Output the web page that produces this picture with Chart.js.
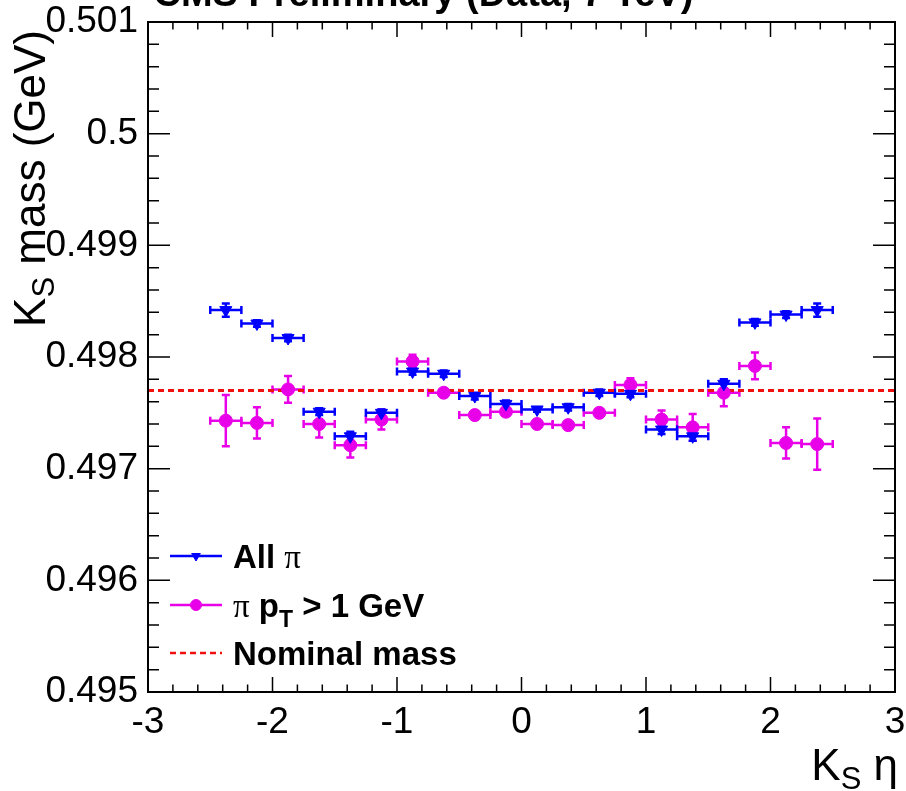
<!DOCTYPE html>
<html>
<head>
<meta charset="utf-8">
<script src="https://cdn.jsdelivr.net/npm/chart.js@4"></script>
<style>
html, body { margin: 0; padding: 0; background: #fff; }
</style>
</head>
<body>
<canvas id="myChart" width="906" height="791"></canvas>
<script>
// K_S mass vs K_S eta, two pion selections
const etaBins = [-2.375, -2.125, -1.875, -1.625, -1.375, -1.125, -0.875, -0.625, -0.375, -0.125,
                 0.125, 0.375, 0.625, 0.875, 1.125, 1.375, 1.625, 1.875, 2.125, 2.375];
const etaHalfWidth = 0.125;

const massAllPi = [0.49842, 0.49830, 0.49817, 0.49751, 0.49729, 0.49750, 0.49787, 0.49785, 0.49765, 0.49758,
                   0.49753, 0.49755, 0.49768, 0.49767, 0.49735, 0.49729, 0.49776, 0.49831, 0.49838, 0.49842];
const errAllPi = [0.00006, 0.00003, 0.00003, 0.00003, 0.00004, 0.00003, 0.00003, 0.00003, 0.00003, 0.00003,
                  0.00002, 0.00003, 0.00003, 0.00003, 0.00004, 0.00004, 0.00004, 0.00003, 0.00003, 0.00006];

const massPtCut = [0.49743, 0.49741, 0.49771, 0.49740, 0.49721, 0.49744, 0.49796, 0.49768, 0.49748, 0.49751,
                   0.49740, 0.49739, 0.49750, 0.49775, 0.49744, 0.49737, 0.49768, 0.49792, 0.49723, 0.49722];
const errPtCut = [0.00023, 0.00014, 0.00012, 0.00012, 0.00011, 0.00009, 0.00006, 0.00003, 0.00003, 0.00003,
                  0.00003, 0.00003, 0.00003, 0.00006, 0.00008, 0.00012, 0.00012, 0.00012, 0.00014, 0.00023];

const nominalMass = 0.4977;

const xTicks = [-3, -2, -1, 0, 1, 2, 3];
const xTickLabels = ['-3', '-2', '-1', '0', '1', '2', '3'];
const yTicks = [0.495, 0.496, 0.497, 0.498, 0.499, 0.5, 0.501];
const yTickLabels = ['0.495', '0.496', '0.497', '0.498', '0.499', '0.5', '0.501'];

const BLUE = '#0000ff';
const MAGENTA = '#e800e8';
const RED = '#f01010';
const FONT = '"Liberation Sans", Arial, Helvetica, sans-serif';
const SERIF = '"Liberation Serif", "DejaVu Serif", serif';

function drawErrors(chart, ys, errs, color) {
    const ctx = chart.ctx, sx = chart.scales.x, sy = chart.scales.y;
    ctx.save();
    ctx.strokeStyle = color;
    ctx.lineWidth = 2.5;
    etaBins.forEach((x, i) => {
        const px = sx.getPixelForValue(x), py = sy.getPixelForValue(ys[i]);
        const x0 = sx.getPixelForValue(x - etaHalfWidth), x1 = sx.getPixelForValue(x + etaHalfWidth);
        const y0 = sy.getPixelForValue(ys[i] - errs[i]), y1 = sy.getPixelForValue(ys[i] + errs[i]);
        const c = 4;
        ctx.beginPath();
        ctx.moveTo(x0, py); ctx.lineTo(x1, py);
        ctx.moveTo(x0, py - c); ctx.lineTo(x0, py + c);
        ctx.moveTo(x1, py - c); ctx.lineTo(x1, py + c);
        ctx.moveTo(px, y0); ctx.lineTo(px, y1);
        ctx.moveTo(px - c, y0); ctx.lineTo(px + c, y0);
        ctx.moveTo(px - c, y1); ctx.lineTo(px + c, y1);
        ctx.stroke();
    });
    ctx.restore();
}

// write text pieces one after another, each {t, font, dy}
function drawPieces(ctx, x, y, pieces) {
    pieces.forEach(p => {
        ctx.font = p.font;
        ctx.fillText(p.t, x, y + (p.dy || 0));
        x += ctx.measureText(p.t).width;
    });
    return x;
}
function piecesWidth(ctx, pieces) {
    let w = 0;
    pieces.forEach(p => { ctx.font = p.font; w += ctx.measureText(p.t).width; });
    return w;
}

const rootStyle = {
    id: 'rootStyle',
    beforeDatasetsDraw(chart) {
        const ctx = chart.ctx, a = chart.chartArea;
        ctx.save();
        ctx.beginPath();
        ctx.rect(a.left, a.top, a.right - a.left, a.bottom - a.top);
        ctx.clip();
        drawErrors(chart, massPtCut, errPtCut, MAGENTA);
        drawErrors(chart, massAllPi, errAllPi, BLUE);
        ctx.restore();
    },
    afterDraw(chart) {
        const ctx = chart.ctx, a = chart.chartArea, sx = chart.scales.x, sy = chart.scales.y;
        ctx.save();
        ctx.strokeStyle = '#000';
        ctx.fillStyle = '#000';

        // ticks pointing inwards on all four sides
        ctx.lineWidth = 1.5;
        ctx.beginPath();
        for (let i = 0; i < xTicks.length; i++) {
            const px = sx.getPixelForValue(xTicks[i]);
            ctx.moveTo(px, a.bottom); ctx.lineTo(px, a.bottom - 15);
            ctx.moveTo(px, a.top); ctx.lineTo(px, a.top + 15);
            if (i < xTicks.length - 1) {
                const step = (xTicks[i + 1] - xTicks[i]) / 5;
                for (let k = 1; k < 5; k++) {
                    const mx = sx.getPixelForValue(xTicks[i] + k * step);
                    ctx.moveTo(mx, a.bottom); ctx.lineTo(mx, a.bottom - 7.5);
                    ctx.moveTo(mx, a.top); ctx.lineTo(mx, a.top + 7.5);
                }
            }
        }
        for (let i = 0; i < yTicks.length; i++) {
            const py = sy.getPixelForValue(yTicks[i]);
            ctx.moveTo(a.left, py); ctx.lineTo(a.left + 22, py);
            ctx.moveTo(a.right, py); ctx.lineTo(a.right - 22, py);
            if (i < yTicks.length - 1) {
                const step = (yTicks[i + 1] - yTicks[i]) / 5;
                for (let k = 1; k < 5; k++) {
                    const my = sy.getPixelForValue(yTicks[i] + k * step);
                    ctx.moveTo(a.left, my); ctx.lineTo(a.left + 11, my);
                    ctx.moveTo(a.right, my); ctx.lineTo(a.right - 11, my);
                }
            }
        }
        ctx.stroke();

        // frame
        ctx.lineWidth = 2;
        ctx.strokeRect(a.left, a.top, a.right - a.left, a.bottom - a.top);

        // axis titles
        ctx.textAlign = 'left';
        ctx.textBaseline = 'alphabetic';
        const xTitle = [
            { t: 'K', font: '44px ' + FONT },
            { t: 'S', font: '31px ' + FONT, dy: 9 },
            { t: ' \u03b7', font: '44px ' + FONT }
        ];
        drawPieces(ctx, 898 - piecesWidth(ctx, xTitle), 780, xTitle);

        const yTitle = [
            { t: 'K', font: '44px ' + FONT },
            { t: 'S', font: '31px ' + FONT, dy: 9 },
            { t: ' mass (GeV)', font: '44px ' + FONT }
        ];
        ctx.save();
        ctx.translate(45, 30);
        ctx.rotate(-Math.PI / 2);
        drawPieces(ctx, -piecesWidth(ctx, yTitle), 0, yTitle);
        ctx.restore();

        // title, mostly above the visible page
        const tPre = 'CMS Preliminary ';
        ctx.font = 'bold 38px ' + FONT;
        ctx.fillText(tPre + '(Data, 7 TeV)', 466 - ctx.measureText(tPre).width, 6);

        // legend
        const lx0 = 170, lx1 = 222, tx = 233;
        const rows = [556, 605, 653];
        ctx.lineWidth = 2.5;
        ctx.strokeStyle = BLUE;
        ctx.beginPath(); ctx.moveTo(lx0, rows[0]); ctx.lineTo(lx1, rows[0]); ctx.stroke();
        ctx.strokeStyle = MAGENTA;
        ctx.beginPath(); ctx.moveTo(lx0, rows[1]); ctx.lineTo(lx1, rows[1]); ctx.stroke();
        ctx.strokeStyle = RED;
        ctx.setLineDash([6, 4]);
        ctx.beginPath(); ctx.moveTo(lx0, rows[2]); ctx.lineTo(lx1, rows[2]); ctx.stroke();
        ctx.setLineDash([]);
        ctx.fillStyle = BLUE; ctx.strokeStyle = BLUE; ctx.lineWidth = 1;
        Chart.helpers.drawPoint(ctx, { pointStyle: 'triangle', radius: 5, rotation: 180, borderWidth: 1 }, (lx0 + lx1) / 2, rows[0]);
        ctx.fillStyle = MAGENTA; ctx.strokeStyle = MAGENTA;
        Chart.helpers.drawPoint(ctx, { pointStyle: 'circle', radius: 5.5, rotation: 0, borderWidth: 1 }, (lx0 + lx1) / 2, rows[1]);

        ctx.fillStyle = '#000';
        const B = 'bold 33px ' + FONT, P = '33px ' + SERIF;
        drawPieces(ctx, tx, rows[0] + 12, [{ t: 'All ', font: B }, { t: '\u03c0', font: P }]);
        drawPieces(ctx, tx, rows[1] + 12, [
            { t: '\u03c0', font: P }, { t: ' p', font: B },
            { t: 'T', font: 'bold 23px ' + FONT, dy: 10 }, { t: ' > 1 GeV', font: B }
        ]);
        drawPieces(ctx, tx, rows[2] + 12, [{ t: 'Nominal mass', font: B }]);
        ctx.restore();
    }
};

const ctx = document.getElementById('myChart');
const cht = new Chart(ctx, {
    type: 'scatter',
    data: {
        datasets: [{
            label: 'All \u03c0',
            data: etaBins.map((x, i) => ({ x: x, y: massAllPi[i] })),
            pointStyle: 'triangle',
            rotation: 180,
            pointRadius: 7,
            backgroundColor: BLUE,
            borderColor: BLUE,
            borderWidth: 1
        }, {
            label: '\u03c0 pT > 1 GeV',
            data: etaBins.map((x, i) => ({ x: x, y: massPtCut[i] })),
            pointStyle: 'circle',
            pointRadius: 6.5,
            backgroundColor: MAGENTA,
            borderColor: MAGENTA,
            borderWidth: 1
        }, {
            label: 'Nominal mass',
            data: [{ x: xTicks[0], y: nominalMass }, { x: xTicks[xTicks.length - 1], y: nominalMass }],
            showLine: true,
            pointRadius: 0,
            borderColor: RED,
            borderWidth: 3,
            borderDash: [6, 4],
            fill: false
        }]
    },
    options: {
        responsive: false,
        animation: false,
        events: [],
        layout: { padding: { top: 22, right: 11, left: 0, bottom: 0 } },
        plugins: { legend: { display: false }, tooltip: { enabled: false } },
        scales: {
            x: {
                type: 'linear',
                min: xTicks[0],
                max: xTicks[xTicks.length - 1],
                afterBuildTicks: s => { s.ticks = xTicks.map(v => ({ value: v })); },
                afterFit: s => { s.height = 99; s.paddingLeft = 0; s.paddingRight = 0; },
                grid: { display: false, drawTicks: false },
                border: { display: false },
                ticks: {
                    color: '#000',
                    font: { family: FONT, size: 37, lineHeight: 1 },
                    padding: 12,
                    maxRotation: 0,
                    autoSkip: false,
                    callback: (v, i) => xTickLabels[i]
                }
            },
            y: {
                type: 'linear',
                min: yTicks[0],
                max: yTicks[yTicks.length - 1],
                afterBuildTicks: s => { s.ticks = yTicks.map(v => ({ value: v })); },
                afterFit: s => { s.width = 148; s.paddingTop = 0; s.paddingBottom = 0; },
                grid: { display: false, drawTicks: false },
                border: { display: false },
                ticks: {
                    color: '#000',
                    font: { family: FONT, size: 37, lineHeight: 1 },
                    padding: 10,
                    autoSkip: false,
                    callback: (v, i) => yTickLabels[i]
                }
            }
        }
    },
    plugins: [rootStyle]
});
</script>
</body>
</html>
